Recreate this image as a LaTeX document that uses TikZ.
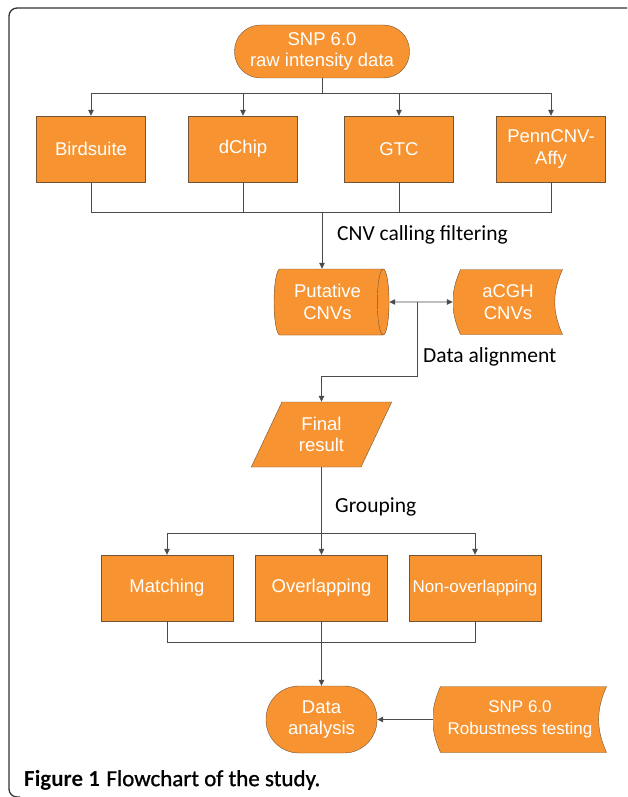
\documentclass[tikz,border=0pt]{standalone}
\usepackage{fontspec}
\setmainfont{Liberation Sans}
\newfontfamily\labelfont{Carlito}
\newfontfamily\capfont{Carlito}[FakeBold=1]
\usetikzlibrary{shapes.geometric,arrows.meta}
\definecolor{cnvorange}{RGB}{247,148,49}
\definecolor{cnvedge}{RGB}{112,84,56}
\definecolor{cnvline}{RGB}{75,75,75}

\begin{document}
\begin{tikzpicture}[x=1pt,y=1pt,>={Triangle[length=6pt,width=5.5pt]}]
      \tikzstyle{box}=[rectangle,draw=cnvedge,fill=cnvorange,text=white,align=center,font=\fontsize{18.5}{21.5}\selectfont,minimum height=66,inner sep=2pt]
      \tikzstyle{term}=[box]
      \tikzstyle{cyl}=[box,cylinder,cylinder uses custom fill,cylinder body fill=cnvorange,cylinder end fill=cnvorange,aspect=0.3,minimum width=66,minimum height=115]
      \tikzstyle{para}=[box,trapezium,trapezium left angle=64,trapezium right angle=116,trapezium stretches=true,minimum width=141,minimum height=65]
      \tikzstyle{stored}=[box,draw=none,fill=none,path picture={
        \filldraw[fill=cnvorange,draw=cnvedge]
          ([xshift=7.5,yshift=-0.5]path picture bounding box.north west) -- ([xshift=-0.5,yshift=-0.5]path picture bounding box.north east)
          to[bend right=24] ([xshift=-0.5,yshift=0.5]path picture bounding box.south east) -- ([xshift=7.5,yshift=0.5]path picture bounding box.south west)
          to[bend left=24] ([xshift=7.5,yshift=-0.5]path picture bounding box.north west) -- cycle;}]
      \tikzstyle{lbl}=[anchor=west,font=\labelfont\fontsize{21.5}{25}\selectfont,inner sep=0pt]
      \tikzstyle{flow}=[draw=cnvline,line width=0.8pt]

      \useasboundingbox (0,0) rectangle (627,-797);
      \draw[line width=1.3pt,color=black!80,rounded corners=8] (627,-8) -- (9,-8) -- (9,-797) -- (20,-797);

      \node[term,minimum width=175,minimum height=53,rounded corners=26] (raw) at (322,-51.5) {SNP 6.0\\raw intensity data};

      \node[box,minimum width=109] (bird) at (91,-149) {Birdsuite};
      \node[box,minimum width=109] (dchip) at (243,-149) {dChip};
      \node[box,minimum width=109] (gtc) at (399,-149) {GTC};
      \node[box,minimum width=109] (penn) at (551,-149) {PennCNV-\\Affy};

      \node[cyl] (put) at (327.5,-302) {Putative\\CNVs};
      \node[stored,minimum width=110] (acgh) at (508,-302) {aCGH\\CNVs};

      \node[para] (final) at (321.5,-434.5) {Final\\result};

      \node[box,minimum width=132] (match) at (167,-588) {Matching};
      \node[box,minimum width=132] (over) at (321.5,-588) {Overlapping};
      \node[box,minimum width=132,font=\fontsize{17}{21}\selectfont] (nonover) at (475,-588) {Non-overlapping};

      \node[term,minimum width=111,minimum height=67,rounded corners=33] (ana) at (321.5,-719.5) {Data\\analysis};
      \node[stored,minimum width=174,minimum height=67,font=\fontsize{17}{21.5}\selectfont] (robust) at (520,-719.5) {SNP 6.0\\Robustness testing};

      \node[lbl] (calling) at (337,-235) {CNV calling filtering};
      \node[lbl] (alignment) at (423,-357) {Data alignment};
      \node[lbl] (grouping) at (335,-507) {Grouping};
      \node[anchor=west,inner sep=0pt,font=\fontsize{23}{27}\selectfont] (caption) at (24,-780) {{\labelfont\bfseries Figure 1} {\capfont Flowchart of the study.}};

      \coordinate (split1) at (322,-93);
      \coordinate (merge1) at (322,-212);
      \coordinate (align) at (417,-302);
      \coordinate (turn) at (417,-376);
      \coordinate (split2) at (321.5,-533);
      \coordinate (merge2) at (321.5,-642);

      \draw[flow] (raw) -- (split1);
      \draw[flow,->] (split1) -| (bird);
      \draw[flow,->] (split1) -| (dchip);
      \draw[flow,->] (split1) -| (gtc);
      \draw[flow,->] (split1) -| (penn);
      \draw[flow] (bird) |- (merge1);
      \draw[flow] (dchip) |- (merge1);
      \draw[flow] (gtc) |- (merge1);
      \draw[flow] (penn) |- (merge1);
      \draw[flow,->] (merge1) -- (merge1 |- put.north);
      \draw[flow,<->] (put) -- (acgh);
      \draw[flow,->] (align) -- (turn) -| (final);
      \draw[flow] (final) -- (split2);
      \draw[flow,->] (split2) -| (match);
      \draw[flow,->] (split2) -- (over);
      \draw[flow,->] (split2) -| (nonover);
      \draw[flow] (match) |- (merge2);
      \draw[flow] (over) -- (merge2);
      \draw[flow] (nonover) |- (merge2);
      \draw[flow,->] (merge2) -- (ana);
      \draw[flow,->] (robust) -- (ana);
\end{tikzpicture}
\end{document}
